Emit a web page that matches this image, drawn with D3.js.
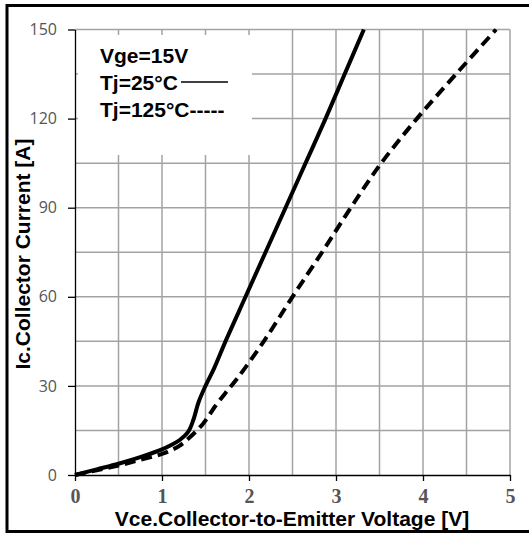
<!DOCTYPE html>
<html>
<head>
<meta charset="utf-8">
<script src="https://cdn.jsdelivr.net/npm/d3@7"></script>
<style>
  body { margin: 0; background: #fff; }
  svg { display: block; }
</style>
</head>
<body>
<div id="chart"></div>
<script>
// values
const vce25 = [0, 0.25, 0.5, 0.75, 1.0, 1.1, 1.2, 1.3, 1.36, 1.42, 1.5, 1.6, 1.73, 1.96, 2.19, 2.42, 2.65, 2.88, 3.1, 3.32];
const ic25 = [0, 1.9, 3.8, 6.0, 8.6, 10, 11.7, 14.5, 18.5, 24.5, 30, 36, 45, 60, 75, 90, 105, 120, 135, 150];
const vce125 = [0, 0.25, 0.5, 0.75, 1.0, 1.1, 1.2, 1.32, 1.47, 1.62, 1.74, 1.86, 2.17, 2.5, 2.84, 3.17, 3.52, 3.93, 4.38, 4.84];
const ic125 = [0, 1.6, 3.2, 5.1, 7.1, 8.3, 9.8, 12.7, 17.2, 23.5, 28, 32.3, 45, 60, 75, 90, 105, 120, 135, 150];

const xTicks = [0, 1, 2, 3, 4, 5];
const yTicks = [0, 30, 60, 90, 120, 150];
const xGrid = [0.5, 1, 1.5, 2, 2.5, 3, 3.5, 4, 4.5, 5];
const yGrid = [15, 30, 45, 60, 75, 90, 105, 120, 135, 150];

const legendLines = ["Vge=15V", "Tj=25\u00b0C", "Tj=125\u00b0C-----"];

const width = 529, height = 534;

const svg = d3.select("#chart").append("svg")
    .attr("width", width)
    .attr("height", height);

const x = d3.scaleLinear().domain([0, 5]).range([75, 510]);
const y = d3.scaleLinear().domain([0, 150]).range([475, 29.5]);

// outer frame (right side runs off the picture)
svg.append("rect")
    .attr("x", 7).attr("y", 5.5)
    .attr("width", 560).attr("height", 526)
    .attr("fill", "none")
    .attr("stroke", "#000")
    .attr("stroke-width", 3);

// grid
const grid = svg.append("g").attr("stroke", "#a3a3a3").attr("stroke-width", 1.5);
grid.selectAll(".gx").data(xGrid).enter().append("line")
    .attr("x1", d => x(d)).attr("x2", d => x(d))
    .attr("y1", y(0)).attr("y2", y(150));
grid.selectAll(".gy").data(yGrid).enter().append("line")
    .attr("x1", x(0)).attr("x2", x(5))
    .attr("y1", d => y(d)).attr("y2", d => y(d));

// white box behind the legend hides the grid
svg.append("rect")
    .attr("x", 78).attr("y", 35)
    .attr("width", 174).attr("height", 120)
    .attr("fill", "#fff");

// axes
const xAxis = svg.append("g")
    .attr("transform", "translate(0," + y(0) + ")")
    .call(d3.axisBottom(x).tickValues(xTicks).tickFormat(d3.format("d"))
      .tickSize(6).tickSizeOuter(0).tickPadding(8));
xAxis.selectAll("text")
    .attr("font-family", "'Liberation Serif', serif")
    .attr("font-weight", "bold")
    .attr("font-size", 20)
    .attr("fill", "#555");

const yAxis = svg.append("g")
    .attr("transform", "translate(" + x(0) + ",0)")
    .call(d3.axisLeft(y).tickValues(yTicks).tickSize(7).tickSizeOuter(0).tickPadding(11));
yAxis.selectAll("text")
    .attr("font-family", "'Open Sans', sans-serif")
    .attr("font-size", 16)
    .attr("fill", "#555");

svg.selectAll(".domain, .tick line").attr("stroke", "#000").attr("stroke-width", 1.3);

// curves
const line = d3.line()
    .x(d => x(d[0]))
    .y(d => y(d[1]))
    .curve(d3.curveCatmullRom);

svg.append("path")
    .datum(vce25.map((v, i) => [v, ic25[i]]))
    .attr("d", line)
    .attr("fill", "none")
    .attr("stroke", "#000")
    .attr("stroke-width", 4);

svg.append("path")
    .datum(vce125.map((v, i) => [v, ic125[i]]))
    .attr("d", line)
    .attr("fill", "none")
    .attr("stroke", "#000")
    .attr("stroke-width", 4)
    .attr("stroke-dasharray", "11,6");

// legend
const legend = svg.append("g")
    .attr("font-family", "'Liberation Sans', Arial, sans-serif")
    .attr("font-weight", "bold")
    .attr("font-size", 21)
    .attr("fill", "#000");
legend.selectAll("text").data(legendLines).enter().append("text")
    .attr("x", 100)
    .attr("y", (d, i) => 63 + i * 27)
    .text(d => d);
legend.append("line")
    .attr("x1", 181).attr("x2", 228)
    .attr("y1", 82).attr("y2", 82)
    .attr("stroke", "#000")
    .attr("stroke-width", 1.5);

// axis titles
svg.append("text")
    .attr("x", 292).attr("y", 526)
    .attr("text-anchor", "middle")
    .attr("font-family", "'Liberation Sans', Arial, sans-serif")
    .attr("font-weight", "bold")
    .attr("font-size", 21)
    .text("Vce.Collector-to-Emitter Voltage [V]");

svg.append("text")
    .attr("transform", "translate(30,254) rotate(-90)")
    .attr("text-anchor", "middle")
    .attr("font-family", "'Liberation Sans', Arial, sans-serif")
    .attr("font-weight", "bold")
    .attr("font-size", 21)
    .text("Ic.Collector Current [A]");
</script>
</body>
</html>
